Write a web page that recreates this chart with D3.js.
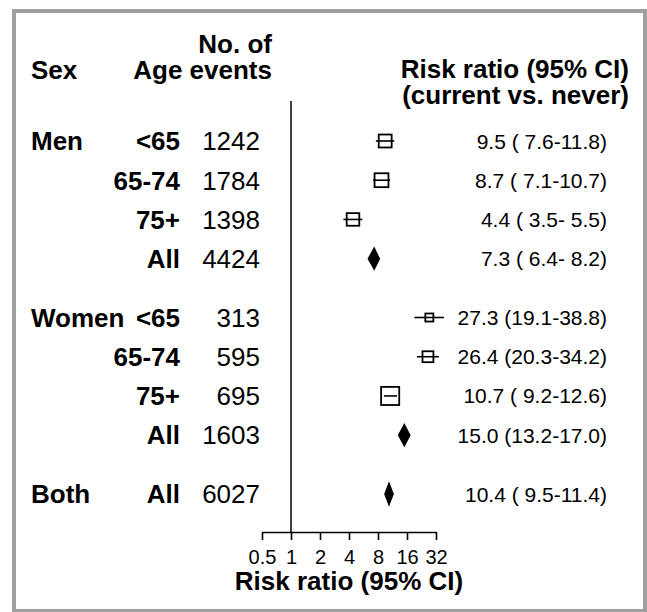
<!DOCTYPE html>
<html><head><meta charset="utf-8">
<script src="https://cdn.jsdelivr.net/npm/d3@7"></script>
<style>
body{margin:0;background:#fff}
svg{display:block;font-family:"Liberation Sans",Arial,Helvetica,sans-serif}
</style>
</head><body>
<svg id="c" width="647" height="612"></svg>
<script>
// ---- data ----
const sexLabels = ["Men", "", "", "", "Women", "", "", "", "Both"];
const groups    = [0, 0, 0, 0, 1, 1, 1, 1, 2];
const ages      = ["<65", "65-74", "75+", "All", "<65", "65-74", "75+", "All", "All"];
const events    = [1242, 1784, 1398, 4424, 313, 595, 695, 1603, 6027];
const rr        = [9.5, 8.7, 4.4, 7.3, 27.3, 26.4, 10.7, 15.0, 10.4];
const lo        = [7.6, 7.1, 3.5, 6.4, 19.1, 20.3, 9.2, 13.2, 9.5];
const hi        = [11.8, 10.7, 5.5, 8.2, 38.8, 34.2, 12.6, 17.0, 11.4];
const isSummary = [false, false, false, true, false, false, false, true, true];
const tickValues = [0.5, 1, 2, 4, 8, 16, 32];

const rows = ages.map((a, i) => ({
  sex: sexLabels[i], age: a, n: events[i], rr: rr[i], lo: lo[i], hi: hi[i],
  summary: isSummary[i], pos: i + 0.5 * groups[i]
}));

const svg = d3.select("#c");
const W = 647, H = 612;

// frame
svg.append("rect").attr("x", 14).attr("y", 11).attr("width", 631).attr("height", 600)
  .attr("fill", "none").attr("stroke", "#a0a0a0").attr("stroke-width", 4);

const x = d3.scaleLog().base(2).domain([0.5, 32]).range([262, 436]);
const y = d3.scaleLinear().domain([0, 9]).range([141, 494]);

const bigFs = 26, valFs = 21;

// headers
const hdr = svg.append("g").attr("font-weight", "bold").attr("font-size", bigFs).attr("fill", "#000");
hdr.append("text").attr("x", 31).attr("y", 79).text("Sex");
hdr.append("text").attr("x", 272).attr("y", 53).attr("text-anchor", "end").text("No. of");
hdr.append("text").attr("x", 272).attr("y", 79).attr("text-anchor", "end").text("Age events");
hdr.append("text").attr("x", 629).attr("y", 78).attr("text-anchor", "end").text("Risk ratio (95% CI)");
hdr.append("text").attr("x", 629).attr("y", 104).attr("text-anchor", "end").text("(current vs. never)");

// reference line at 1
svg.append("line").attr("x1", x(1)).attr("x2", x(1)).attr("y1", 101).attr("y2", 532)
  .attr("stroke", "#000").attr("stroke-width", 1.5);

// row texts
const g = svg.append("g");
const rowG = g.selectAll("g.row").data(rows).join("g").attr("class", "row")
  .attr("transform", d => `translate(0,${y(d.pos)})`);

rowG.append("text").attr("x", 31).attr("y", 0.358 * bigFs)
  .attr("font-size", bigFs).attr("font-weight", "bold").text(d => d.sex);
rowG.append("text").attr("x", 180).attr("y", 0.358 * bigFs).attr("text-anchor", "end")
  .attr("font-size", bigFs).attr("font-weight", "bold").text(d => d.age);
rowG.append("text").attr("x", 260).attr("y", 0.358 * bigFs).attr("text-anchor", "end")
  .attr("font-size", bigFs).text(d => d.n);

const pad = (v) => { const s = v.toFixed(1); return s.length < 4 ? " ".repeat(4 - s.length) + s : s; };
rowG.append("text").attr("x", 607).attr("y", 0.358 * valFs).attr("text-anchor", "end")
  .attr("font-size", valFs).style("white-space", "pre").attr("xml:space", "preserve")
  .text(d => `${d.rr.toFixed(1)} (${pad(d.lo)}-${pad(d.hi)})`);

// CI lines and boxes for non-summary rows
const ind = rowG.filter(d => !d.summary);
const boxK = 5.7;
ind.append("rect")
  .attr("x", d => x(d.rr) - boxK / Math.log(d.hi / d.lo) / 2)
  .attr("y", d => -boxK / Math.log(d.hi / d.lo) / 2)
  .attr("width", d => boxK / Math.log(d.hi / d.lo))
  .attr("height", d => boxK / Math.log(d.hi / d.lo))
  .attr("fill", "#fff").attr("stroke", "#000").attr("stroke-width", 1.8);
ind.append("line").attr("x1", d => x(d.lo)).attr("x2", d => x(d.hi)).attr("y1", 0).attr("y2", 0)
  .attr("stroke", "#000").attr("stroke-width", 1.6);

// diamonds for summary rows
const sum = rowG.filter(d => d.summary);
sum.append("path")
  .attr("d", d => `M${x(d.lo)},0L${x(d.rr)},-10L${x(d.hi)},0L${x(d.rr)},10Z`)
  .attr("fill", "#000").attr("stroke", "#000").attr("stroke-width", 2).attr("stroke-linejoin", "miter");

// axis
const axis = d3.axisBottom(x).tickValues(tickValues).tickFormat(d => d)
  .tickSize(8).tickSizeOuter(0).tickPadding(10);
const ag = svg.append("g").attr("transform", "translate(0,532)").call(axis);
ag.select(".domain").attr("stroke-width", 1.6);
ag.selectAll(".tick line").attr("stroke-width", 1.6);
ag.selectAll(".tick text").attr("font-size", 20).attr("font-family", null).attr("fill", "#000");
ag.attr("font-family", null);

svg.append("text").attr("x", (x(0.5) + x(32)) / 2).attr("y", 590).attr("text-anchor", "middle")
  .attr("font-size", bigFs).attr("font-weight", "bold").text("Risk ratio (95% CI)");
</script>
</body></html>
